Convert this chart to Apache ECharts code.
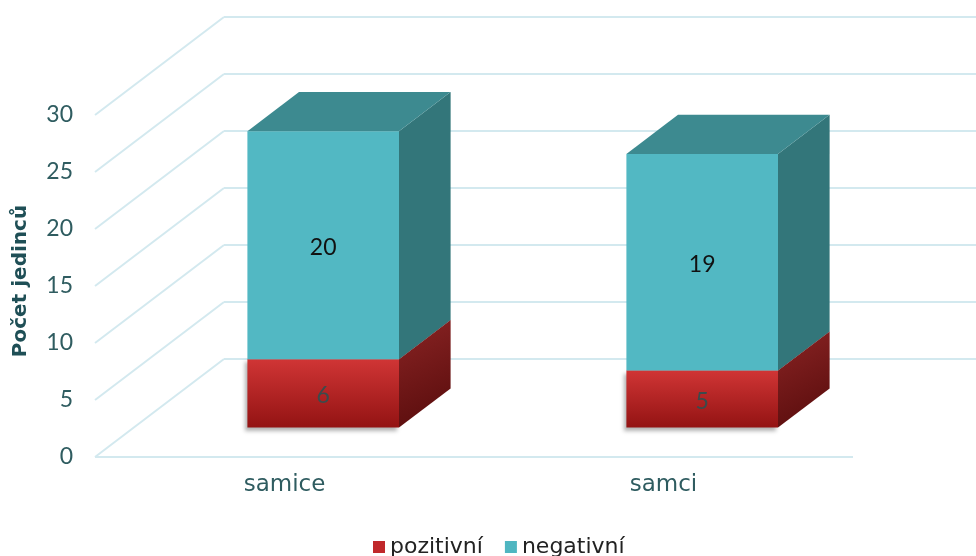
<!DOCTYPE html>
<html>
<head>
<meta charset="utf-8">
<script src="https://cdn.jsdelivr.net/npm/echarts@6/dist/echarts.min.js"></script>
<style>
  html, body { margin: 0; padding: 0; background: #fff; }
  #chart { width: 976px; height: 556px; }
</style>
</head>
<body>
<div id="chart"></div>
<script>
// data
var categories = ['samice', 'samci'];
var pozitivni = [6, 5];
var negativni = [20, 19];
var yTicks = [0, 5, 10, 15, 20, 25, 30];

// 3D look: full depth of the floor, bar sits between 30% and 70% of it
var DEPTH = [129, -98];
var T0 = 0.3, T1 = 0.7;
var FONT = 'Lato, "Open Sans", sans-serif';
var WIDE = '"DejaVu Sans", sans-serif';

function box(api, params, idx, lo, hi, faces, label, labelColor) {
  var bw = api.size([1, 0])[0] * 0.4;
  var pLo = api.coord([idx, lo]);
  var pHi = api.coord([idx, hi]);
  var fx = DEPTH[0] * T0, fy = DEPTH[1] * T0;
  var bx = DEPTH[0] * (T1 - T0), by = DEPTH[1] * (T1 - T0);
  var x0 = pLo[0] - bw / 2 + fx, x1 = pLo[0] + bw / 2 + fx;
  var yb = pLo[1] + fy, yt = pHi[1] + fy;
  return {
    type: 'group',
    children: [
      { // front
        type: 'polygon',
        shape: { points: [[x0, yb], [x1, yb], [x1, yt], [x0, yt]] },
        style: faces.front
      },
      { // side
        type: 'polygon',
        shape: { points: [[x1, yb], [x1 + bx, yb + by], [x1 + bx, yt + by], [x1, yt]] },
        style: { fill: faces.side }
      },
      { // top
        type: 'polygon',
        shape: { points: [[x0, yt], [x1, yt], [x1 + bx, yt + by], [x0 + bx, yt + by]] },
        style: { fill: faces.top }
      },
      {
        type: 'text',
        style: {
          text: label, x: (x0 + x1) / 2, y: (yb + yt) / 2 + 2,
          align: 'center', verticalAlign: 'middle',
          fill: labelColor, font: '23px ' + FONT
        }
      }
    ]
  };
}

var redFaces = {
  front: {
    fill: new echarts.graphic.LinearGradient(0, 0, 0, 1, [
      { offset: 0, color: '#d03535' }, { offset: 1, color: '#931313' }
    ]),
    shadowBlur: 4, shadowColor: 'rgba(0,0,0,0.3)', shadowOffsetX: -2, shadowOffsetY: 3
  },
  side: new echarts.graphic.LinearGradient(0, 0, 1, 1, [
    { offset: 0, color: '#8a2424' }, { offset: 1, color: '#560b0b' }
  ]),
  top: '#b83030'
};
var tealFaces = { front: { fill: '#52b8c3' }, side: '#33767a', top: '#3d8a90' };

var myChart = echarts.init(document.getElementById('chart'));

var option = {
  animation: false,
  grid: { left: 95, right: 123, top: 115, bottom: 99 },
  legend: {
    bottom: -7,
    left: 368,
    itemWidth: 12,
    itemHeight: 12,
    itemGap: 22,
    icon: 'rect',
    textStyle: { fontSize: 22, color: '#222', fontFamily: WIDE },
    data: ['pozitivní', 'negativní']
  },
  xAxis: {
    type: 'category',
    data: categories,
    axisLine: { show: false },
    axisTick: { show: false },
    axisLabel: { fontSize: 23, color: '#2f5c60', fontFamily: WIDE, margin: 17 }
  },
  yAxis: {
    type: 'value',
    min: 0, max: 30, interval: 5,
    name: 'Počet jedinců',
    nameLocation: 'middle',
    nameGap: 64,
    nameRotate: 90,
    nameTextStyle: { fontSize: 20, fontWeight: 'bold', color: '#1f4f56', fontFamily: WIDE, padding: [0, 0, 0, 10] },
    axisLine: { show: false },
    axisTick: { show: false },
    splitLine: { show: false },
    axisLabel: { fontSize: 23, color: '#2f5c60', fontFamily: FONT, margin: 22 }
  },
  series: [
    {
      name: 'grid3d',
      type: 'custom',
      silent: true,
      z: 1,
      data: yTicks.map(function (v) { return [0, v]; }),
      renderItem: function (params, api) {
        var cs = params.coordSys;
        var y = api.coord([0, api.value(1)])[1];
        var lineStyle = { stroke: '#d3e9ef', lineWidth: 2 };
        var kids = [
          { type: 'line', shape: { x1: cs.x, y1: y, x2: cs.x + DEPTH[0], y2: y + DEPTH[1] }, style: lineStyle },
          { type: 'line', shape: { x1: cs.x + DEPTH[0], y1: y + DEPTH[1], x2: cs.x + cs.width + DEPTH[0], y2: y + DEPTH[1] }, style: lineStyle }
        ];
        if (api.value(1) === 0) {
          kids.push({ type: 'line', shape: { x1: cs.x, y1: y, x2: cs.x + cs.width, y2: y }, style: lineStyle });
        }
        return { type: 'group', children: kids };
      }
    },
    {
      name: 'pozitivní',
      type: 'custom',
      z: 2,
      itemStyle: { color: '#c0282b' },
      data: pozitivni.map(function (v, i) { return [i, 0, v]; }),
      renderItem: function (params, api) {
        var lo = api.value(1), hi = api.value(2);
        return box(api, params, api.value(0), lo, hi, redFaces, String(hi - lo), '#3b4b4c');
      }
    },
    {
      name: 'negativní',
      type: 'custom',
      z: 3,
      itemStyle: { color: '#4fb6c1' },
      data: negativni.map(function (v, i) { return [i, pozitivni[i], pozitivni[i] + v]; }),
      renderItem: function (params, api) {
        var lo = api.value(1), hi = api.value(2);
        return box(api, params, api.value(0), lo, hi, tealFaces, String(hi - lo), '#111');
      }
    }
  ]
};

myChart.setOption(option);
</script>
</body>
</html>
